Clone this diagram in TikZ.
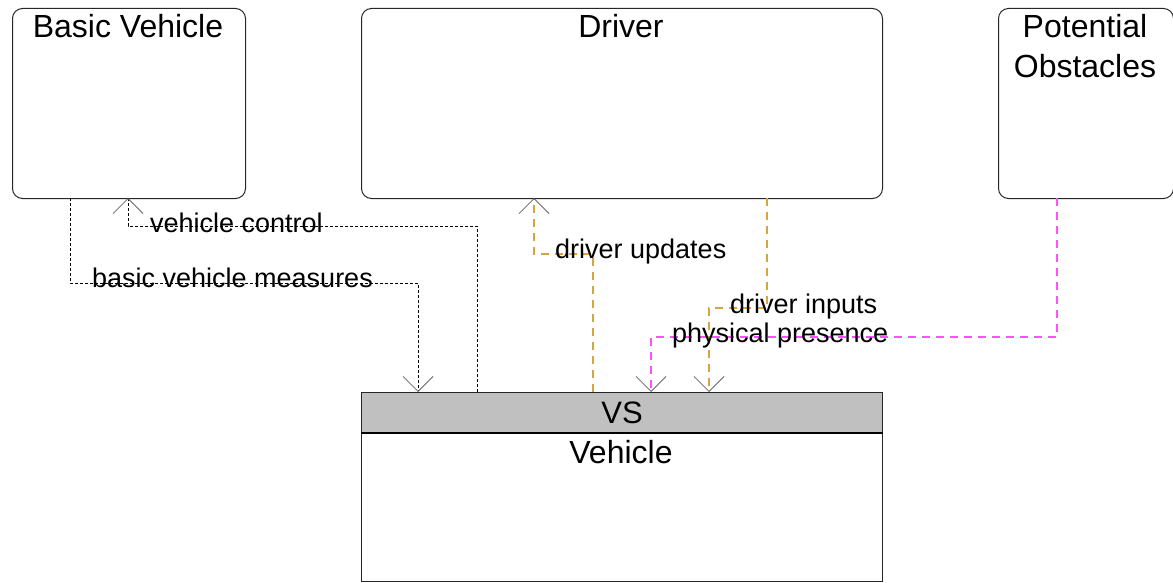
\documentclass[tikz,border=0pt]{standalone}
\usepackage{fontspec}
\setmainfont{Liberation Sans}
\usetikzlibrary{arrows.meta,calc}
\definecolor{orng}{RGB}{214,164,64}
\definecolor{mgnt}{RGB}{255,80,255}
\definecolor{hdr}{RGB}{192,192,192}
\begin{document}
\begin{tikzpicture}[x=1pt,y=-1pt,
  box/.style={draw=black!85,line width=1pt,rounded corners=10pt,anchor=north west,inner sep=0pt},
  ttl/.style={font=\fontsize{32}{40}\selectfont,align=center,anchor=north,inner sep=0pt},
  lbl/.style={font=\fontsize{27}{30}\selectfont,anchor=base west,inner sep=0pt},
  tip/.style={-{Straight Barb[length=15pt,width=30pt,line width=0.8pt,color=black!60]}},
  bk/.style={draw=black,line width=0.8pt,dash pattern=on 3pt off 2pt},
  og/.style={draw=orng,line width=1.5pt,dash pattern=on 8pt off 6pt},
  mg/.style={draw=mgnt,line width=1.5pt,dash pattern=on 8pt off 6pt}]
\useasboundingbox (0,0) rectangle (1173,583);
% boxes
\node[box,minimum width=233pt,minimum height=190pt] (bv) at (12,8) {};
\node[ttl] (bvt) at (128,14) {Basic Vehicle};
\node[box,minimum width=521pt,minimum height=190pt] (dr) at (361,8) {};
\node[ttl] (drt) at (621,14) {Driver};
\node[box,minimum width=175pt,minimum height=190pt] (po) at (998,8) {};
\node[ttl] (pot) at (1085,14) {Potential\\Obstacles};
% VS / Vehicle
\node[draw=black!85,line width=1pt,fill=hdr,anchor=north west,minimum width=521pt,minimum height=40pt,inner sep=0pt] (vs) at (361,392) {};
\node[draw=black!85,line width=1pt,anchor=north west,minimum width=521pt,minimum height=149pt,inner sep=0pt] (veh) at (361,432) {};
\draw[black,line width=2pt] (vs.south west) -- (vs.south east);
\node[font=\fontsize{31}{36}\selectfont,inner sep=0pt] (vst) at (vs.center) {VS};
\node[ttl] (veht) at (621,440) {Vehicle};
% connectors
\coordinate (c1) at (70,198);
\coordinate (c2) at (418,392);
\draw[bk,tip] (c1) |- (300,283) -| (c2);
\coordinate (c3) at (477,392);
\coordinate (c4) at (128,198);
\draw[bk,tip] (c3) |- (300,226) -| (c4);
\coordinate (c5) at (593,392);
\coordinate (c6) at (534,198);
\draw[og,tip] (c5) |- (560,254) -| (c6);
\coordinate (c7) at (767,198);
\coordinate (c8) at (709,392);
\draw[og,tip] (c7) |- (740,308) -| (c8);
\coordinate (c9) at (1057,198);
\coordinate (c10) at (651,392);
\draw[mg,tip] (c9) |- (800,337) -| (c10);
% labels
\node[lbl] (l1) at (92,287) {basic vehicle measures};
\node[lbl] (l2) at (150,232) {vehicle control};
\node[lbl] (l3) at (555,258) {driver updates};
\node[lbl] (l4) at (730,313) {driver inputs};
\node[lbl] (l5) at (672,342) {physical presence};
\end{tikzpicture}
\end{document}
